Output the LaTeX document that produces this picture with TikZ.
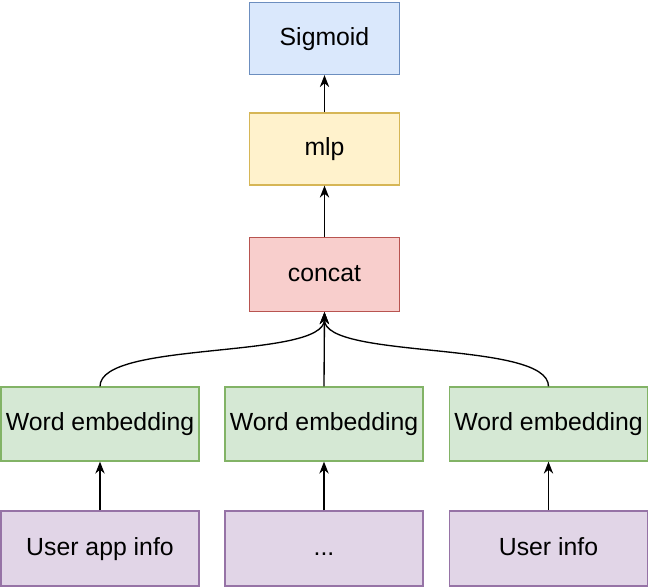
\documentclass[tikz,border=0pt]{standalone}
\usepackage{fontspec}
\setmainfont{Liberation Sans}
\usetikzlibrary{arrows.meta}
\definecolor{bluefill}{HTML}{DAE8FC}\definecolor{blueline}{HTML}{6C8EBF}
\definecolor{yelfill}{HTML}{FFF2CC}\definecolor{yelline}{HTML}{D6B656}
\definecolor{redfill}{HTML}{F8CECC}\definecolor{redline}{HTML}{B85450}
\definecolor{grnfill}{HTML}{D5E8D4}\definecolor{grnline}{HTML}{82B366}
\definecolor{purfill}{HTML}{E1D5E7}\definecolor{purline}{HTML}{9673A6}
\begin{document}
\begin{tikzpicture}[x=0.75pt,y=-0.75pt,
  box/.style={draw,line width=0.9pt,minimum width=150*0.75pt,minimum height=72*0.75pt,inner sep=0pt,
    text height=13.5pt,text depth=3.5pt,font=\fontsize{18.6}{20}\selectfont},
  wide/.style={box,minimum width=198*0.75pt,minimum height=74*0.75pt},
  conn/.style={line width=1pt,-{Stealth[length=9pt,width=7pt]}}]
\useasboundingbox (0,0) rectangle (650,587);
\node[box,fill=bluefill,draw=blueline] (sig) at (324.5,38.5) {Sigmoid};
\node[box,fill=yelfill,draw=yelline] (mlp) at (324.5,149) {mlp};
\node[box,fill=redfill,draw=redline,minimum height=74*0.75pt] (cat) at (324.5,274.5) {concat};
\node[wide,fill=grnfill,draw=grnline] (w1) at (100,424) {Word embedding};
\node[wide,fill=grnfill,draw=grnline] (w2) at (324,424) {Word embedding};
\node[wide,fill=grnfill,draw=grnline] (w3) at (548.5,424) {Word embedding};
\node[wide,fill=purfill,draw=purline,minimum height=75*0.75pt] (u1) at (100,548.5) {User app info};
\node[wide,fill=purfill,draw=purline,minimum height=75*0.75pt] (u2) at (324,548.5) {...};
\node[wide,fill=purfill,draw=purline,minimum height=75*0.75pt] (u3) at (548.5,548.5) {User info};
\draw[conn] (mlp) -- (sig);
\draw[conn] (cat) -- (mlp);
\draw[conn] (w2.north) -- (cat.south);
\draw[conn] (w1.north) .. controls (100,340) and (324,360) .. (cat.south);
\draw[conn] (w3.north) .. controls (548.5,340) and (324,360) .. (cat.south);
\draw[conn] (u1) -- (w1);
\draw[conn] (u2) -- (w2);
\draw[conn] (u3) -- (w3);
\end{tikzpicture}
\end{document}
